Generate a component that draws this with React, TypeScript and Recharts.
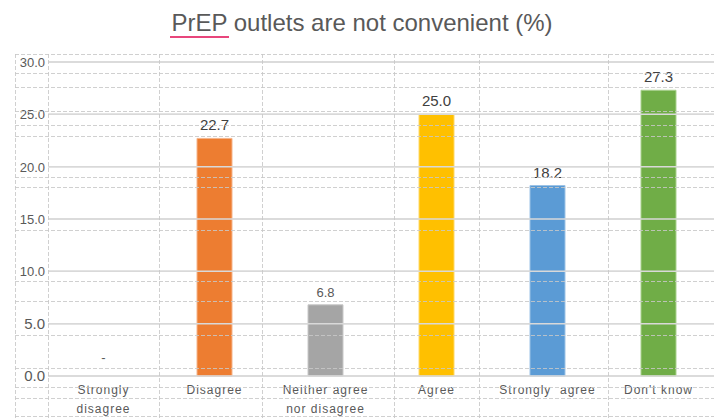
import React from "react";
import {
  BarChart,
  Bar,
  XAxis,
  YAxis,
  CartesianGrid,
  Cell,
  LabelList,
  ReferenceLine,
} from "recharts";

// ---- data ----
const categories: string[] = [
  "Strongly\ndisagree",
  "Disagree",
  "Neither agree\nnor disagree",
  "Agree",
  "Strongly  agree",
  "Don't know",
];
const values: number[] = [0, 22.7, 6.8, 25.0, 18.2, 27.3];
const yTicks: number[] = [0, 5, 10, 15, 20, 25, 30];
const title = "PrEP outlets are not convenient (%)";

// ---- styles ----
const barColors = ["#A5A5A5", "#ED7D31", "#A5A5A5", "#FFC000", "#5B9BD5", "#70AD47"];
const barEdges = ["#d0d0d0", "#f5b48a", "#c8c8c8", "#ffd966", "#9dc3e6", "#a9d18e"];
const FONT = "'Liberation Sans', Arial, sans-serif";

// decorative dashed spreadsheet cell borders (overlay, not data)
const overlayRows = [54, 73, 87, 111, 125, 136, 177, 187, 230, 281, 301, 335, 368, 387, 398, 416];
const overlayCols = [15, 48, 159, 262, 394, 479, 608];

const data = categories.map((name, i) => ({ name, value: values[i] }));

const XTick = (props: any) => {
  const { x, y, payload, index } = props;
  const lines = String(payload.value).split("\n");
  const v = values[index];
  return (
    <g>
      {v === 0 && (
        <text
          x={x}
          y={y - 22}
          textAnchor="middle"
          fill="#595959"
          fontSize={13}
          fontFamily={FONT}
        >
          -
        </text>
      )}
      {lines.map((ln, i) => (
        <text
          key={i}
          x={x}
          y={y + 10 + i * 19}
          textAnchor="middle"
          fill="#595959"
          fontSize={12}
          fontFamily={FONT}
          style={{ letterSpacing: "1px", whiteSpace: "pre" }}
        >
          {ln}
        </text>
      ))}
    </g>
  );
};

const YTick = (props: any) => {
  const { y, payload } = props;
  const v = Number(payload.value);
  return (
    <text
      x={45}
      y={y + 5}
      textAnchor="end"
      fill="#595959"
      fontSize={v < 10 ? 15 : 13}
      fontFamily={FONT}
    >
      {v.toFixed(1)}
    </text>
  );
};

const ValueLabel = (props: any) => {
  const { x, y, width, value } = props;
  const v = Number(value);
  if (v === 0) return null;
  const small = v < 10;
  return (
    <text
      x={x + width / 2}
      y={y - 8}
      textAnchor="middle"
      fill={small ? "#595959" : "#404040"}
      fontSize={small ? 13 : 15}
      fontFamily={FONT}
    >
      {v.toFixed(1)}
    </text>
  );
};

export default function App() {
  return (
    <div style={{ position: "absolute", left: 0, top: 0, width: 714, height: 418, background: "#fff" }}>
      <BarChart
        width={714}
        height={418}
        data={data}
        margin={{ top: 62, right: 0, bottom: 0, left: 0 }}
        barCategoryGap={0}
      >
        <CartesianGrid vertical={false} stroke="#d9d9d9" strokeWidth={1.5} />
        <XAxis
          dataKey="name"
          height={42}
          axisLine={false}
          tickLine={false}
          tick={<XTick />}
          interval={0}
        />
        <YAxis
          width={48}
          domain={[0, 30]}
          ticks={yTicks}
          axisLine={false}
          tickLine={false}
          tick={<YTick />}
        />
        <Bar dataKey="value" barSize={35} isAnimationActive={false} strokeWidth={1}>
          {data.map((d, i) => (
            <Cell key={d.name} fill={barColors[i]} stroke={barEdges[i]} />
          ))}
          <LabelList dataKey="value" content={<ValueLabel />} />
        </Bar>
        {yTicks.map((t) => (
          <ReferenceLine key={t} y={t} stroke="#d9d9d9" strokeWidth={1.5} />
        ))}
      </BarChart>
      <svg
        width={714}
        height={418}
        style={{ position: "absolute", left: 0, top: 0, pointerEvents: "none" }}
      >
        <text
          x={362}
          y={31}
          textAnchor="middle"
          fill="#595959"
          fontSize={24}
          fontFamily={FONT}
        >
          {title}
        </text>
        <line x1={170} x2={229} y1={37} y2={37} stroke="#e8467c" strokeWidth={2} />
        {overlayRows.map((r) => (
          <line
            key={"r" + r}
            x1={15}
            x2={714}
            y1={r + 0.5}
            y2={r + 0.5}
            stroke="#c8c8c8"
            strokeOpacity={0.85}
            strokeDasharray="4 2"
          />
        ))}
        {overlayCols.map((c) => (
          <line
            key={"c" + c}
            x1={c + 0.5}
            x2={c + 0.5}
            y1={54}
            y2={418}
            stroke="#c8c8c8"
            strokeOpacity={0.85}
            strokeDasharray="4 2"
          />
        ))}
      </svg>
    </div>
  );
}
